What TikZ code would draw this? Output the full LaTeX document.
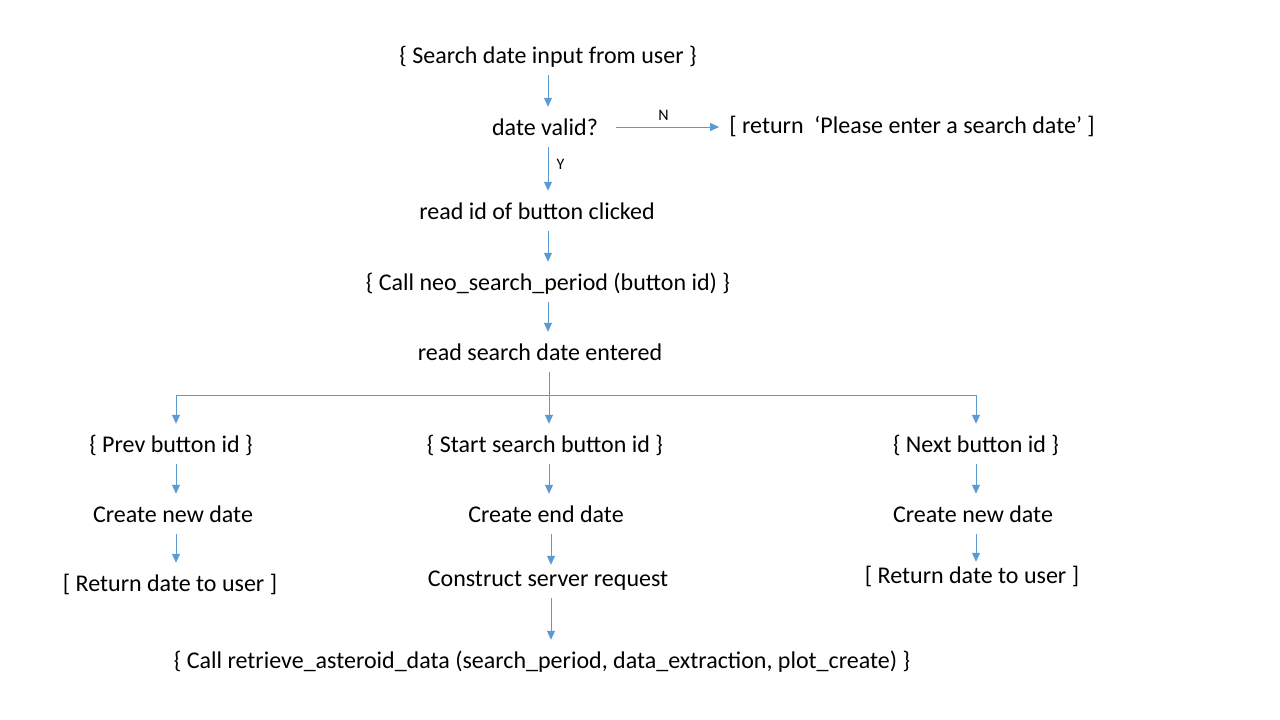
\documentclass[tikz,border=0pt]{standalone}
\usepackage{fontspec}
\setmainfont{Carlito}
\usepackage{tikz}
\usetikzlibrary{positioning,calc,arrows.meta}
\definecolor{flowblue}{HTML}{5B9BD5}

\begin{document}
\begin{tikzpicture}[x=1pt,y=-1pt,
    step text/.style={inner xsep=1pt, inner ysep=8pt, text height=20pt, text depth=4pt,
        font=\fontsize{24}{28}\selectfont},
    flow/.style={draw=flowblue, line width=1pt, -{Triangle[width=8pt,length=9pt]}},
    tag/.style={font=\fontsize{16}{19}\selectfont, text=black, inner sep=0pt}]
    \useasboundingbox (0,0) rectangle (1280,720);

    \node[step text] (input) at (548,55) {\{ Search date input from user \}};
    \node[step text] (valid) at (545,127) {date valid?};
    \node[step text] (reject) at (912,125) {[ return \ ‘Please enter a search date’ ]};
    \node[step text] (readid) at (537,211) {read id of button clicked};
    \node[step text] (callneo) at (548,282) {\{ Call neo\_search\_period (button id) \}};
    \node[step text] (readdate) at (540,352) {read search date entered};

    \node[step text] (prev) at (171,444) {\{ Prev button id \}};
    \node[step text] (start) at (545,444) {\{ Start search button id \}};
    \node[step text] (next) at (976,444) {\{ Next button id \}};

    \node[step text] (prevdate) at (173,514) {Create new date};
    \node[step text] (enddate) at (546,514) {Create end date};
    \node[step text] (nextdate) at (973,514) {Create new date};

    \node[step text] (prevret) at (170,583) {[ Return date to user ]};
    \node[step text] (request) at (548,578) {Construct server request};
    \node[step text] (nextret) at (972,575) {[ Return date to user ]};

    \node[step text] (retrieve) at (542,660) {\{ Call retrieve\_asteroid\_data (search\_period, data\_extraction, plot\_create) \}};

    % main column
    \draw[flow] (input.south) -- (input.south |- valid.north);
    \draw[flow, shorten <=17pt, shorten >=9pt] (valid.east) -- (valid.east -| reject.west)
        node[tag, midway, above=6pt] (no) {N};
    \draw[flow] (input.south |- valid.south) -- (input.south |- readid.north)
        node[tag, pos=0.4, right=8pt] (yes) {Y};
    \draw[flow] (readid.south -| callneo.north) -- (callneo.north);
    \draw[flow] (callneo.south) -- (callneo.south |- readdate.north);

    % branch
    \coordinate (split) at (549,395);
    \draw[draw=flowblue, line width=1pt] (readdate.south -| split) -- (split);
    \draw[flow] (split) -- (split |- start.north);
    \draw[flow] (split) -| ([xshift=5pt]prev.north);
    \draw[flow] (split) -| (next.north);

    % left branch
    \draw[flow] ([xshift=5pt]prev.south) -- ([xshift=5pt]prev.south |- prevdate.north);
    \draw[flow] ([xshift=3pt]prevdate.south) -- ([xshift=3pt]prevdate.south |- prevret.north);

    % middle branch
    \draw[flow] (split |- start.south) -- (split |- enddate.north);
    \draw[flow, shorten >=-7pt] ([xshift=5pt]enddate.south) -- ([xshift=5pt]enddate.south |- request.north);
    \draw[flow] ([xshift=3pt]request.south) -- ([xshift=3pt]request.south |- retrieve.north);

    % right branch
    \draw[flow] (next.south) -- (next.south |- nextdate.north);
    \draw[flow, shorten >=-7pt] ([xshift=3pt]nextdate.south) -- ([xshift=3pt]nextdate.south |- nextret.north);
\end{tikzpicture}
\end{document}
